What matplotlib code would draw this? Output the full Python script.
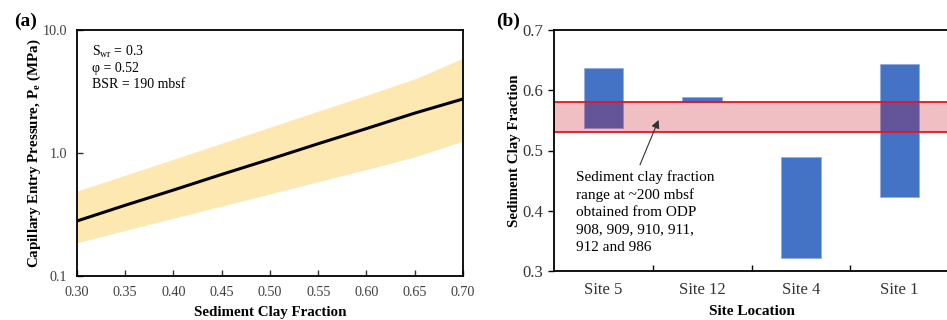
import matplotlib.pyplot as plt
import numpy as np

plt.rcParams['font.family'] = ['Liberation Serif', 'DejaVu Serif']
plt.rcParams['mathtext.fontset'] = 'custom'
plt.rcParams['mathtext.rm'] = 'Liberation Serif'
plt.rcParams['mathtext.it'] = 'Liberation Serif'
plt.rcParams['mathtext.bf'] = 'Liberation Serif:bold'

### panel (a) data: capillary entry pressure vs clay fraction
clay = [0.30, 0.35, 0.40, 0.45, 0.50, 0.55, 0.60, 0.65, 0.70]
pe_mid = [0.28, 0.376, 0.50, 0.67, 0.89, 1.19, 1.58, 2.11, 2.75]
pe_hi = [0.49, 0.66, 0.89, 1.20, 1.62, 2.19, 2.95, 4.0, 5.9]
pe_lo = [0.186, 0.235, 0.295, 0.37, 0.465, 0.585, 0.735, 0.93, 1.25]

### panel (b) data: clay fraction range per site
sites = ['Site 5', 'Site 12', 'Site 4', 'Site 1']
site_lo = [0.538, 0.580, 0.322, 0.423]
site_hi = [0.637, 0.588, 0.489, 0.643]
odp_range = [0.530, 0.580]
note_lines = ['Sediment clay fraction', 'range at ~200 mbsf', 'obtained from ODP',
              '908, 909, 910, 911,', '912 and 986']

fig = plt.figure(figsize=(9.47, 3.2), dpi=100)

# ---------------- (a) ----------------
ax1 = fig.add_axes([77/947, 44/320, 386/947, 246/320])
ax1.fill_between(clay, pe_lo, pe_hi, color='#FDE8B2', lw=0)
ax1.plot(clay, pe_mid, color='black', lw=2.2)
ax1.set_yscale('log')
ax1.set_xlim(0.30, 0.70)
ax1.set_ylim(0.1, 10)
ax1.set_xticks(np.arange(0.30, 0.701, 0.05))
ax1.set_xticklabels(['%.2f' % v for v in np.arange(0.30, 0.701, 0.05)])
ax1.set_yticks([0.1, 1.0, 10.0])
ax1.set_yticklabels(['0.1', '1.0', '10.0'])
ax1.minorticks_off()
ax1.tick_params(direction='in', labelsize=10.2, length=4, width=1, colors='#333333',
                labelcolor='#404040')
ax1.tick_params(axis='x', pad=7)
ax1.tick_params(axis='y', pad=7)
for s in ax1.spines.values():
    s.set_linewidth(1.3)
ax1.set_xlabel('Sediment Clay Fraction', fontsize=10.8, fontweight='bold', labelpad=5)
ax1.set_ylabel('Capillary Entry Pressure, P$_\\mathbf{e}$ (MPa)', fontsize=10.8,
               fontweight='bold')
ax1.yaxis.set_label_coords(-0.088, 0.5)
ax1.text(0.039, 0.945, 'S$_{\\mathrm{wr}}$ = 0.3\n\u03c6 = 0.52\nBSR = 190 mbsf',
         transform=ax1.transAxes, fontsize=10, va='top', ha='left', linespacing=1.25)
fig.text(14/947, 1 - 21/320, '(a)', fontsize=14, fontweight='bold', va='center')

# ---------------- (b) ----------------
ax2 = fig.add_axes([554/947, 49/320, 395/947, 241/320])
x = np.arange(len(sites))
heights = [h - l for h, l in zip(site_hi, site_lo)]
ax2.bar(x, heights, bottom=site_lo, width=0.4, color='#4472C4', edgecolor='#8FAADC', lw=0.5)
ax2.axhspan(odp_range[0], odp_range[1], facecolor=(195/255, 0, 20/255, 0.25),
            edgecolor='#E8141E', lw=1.3)
ax2.set_xlim(-0.5, len(sites) - 0.5)
ax2.set_ylim(0.3, 0.7)
ax2.set_yticks([0.3, 0.4, 0.5, 0.6, 0.7])
ax2.set_yticklabels(['0.3', '0.4', '0.5', '0.6', '0.7'])
ax2.set_xticks(x)
ax2.set_xticklabels(sites)
ax2.set_xticks(x[:-1] + 0.5, minor=True)
ax2.tick_params(axis='x', which='major', length=0, labelsize=12, pad=8, labelcolor='#333333')
ax2.tick_params(axis='x', which='minor', direction='in', length=4, width=1)
ax2.tick_params(axis='y', direction='out', length=4, width=1, labelsize=12, labelcolor='#333333')
for s in ax2.spines.values():
    s.set_linewidth(1.3)
ax2.set_xlabel('Site Location', fontsize=11, fontweight='bold', labelpad=5)
ax2.set_ylabel('Sediment Clay Fraction', fontsize=10.8, fontweight='bold', labelpad=1)
ax2.annotate('', xy=(0.57, 0.555), xytext=(0.36, 0.472),
             arrowprops=dict(arrowstyle='-|>', color='#333333', lw=0.8, mutation_scale=12))
### note text, one line at a time so the spacing stays even
for i, line in enumerate(note_lines):
    ax2.text(-0.28, 0.449 - i * 0.029, line, fontsize=11, va='baseline', ha='left')
fig.text(496/947, 1 - 21/320, '(b)', fontsize=14, fontweight='bold', va='center')

fig.savefig('out.png', dpi=100)
